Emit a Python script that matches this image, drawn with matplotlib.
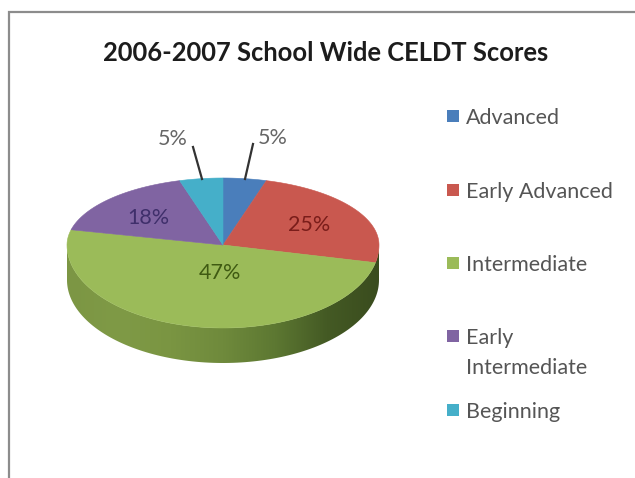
"""
2006-2007 CELDT scores: fake-3D pie drawn in pixel coordinates.
"""
import numpy as np
import matplotlib
matplotlib.use('Agg')
import matplotlib.pyplot as plt
import matplotlib.patches as mpatches
from matplotlib.colors import LinearSegmentedColormap

categories = ['Advanced', 'Early Advanced', 'Intermediate', 'Early\nIntermediate', 'Beginning']
values = [5, 25, 47, 18, 5]
colors = ['#4a7ebb', '#c9584f', '#9bbb59', '#8064a2', '#45afc9']
label_colors = ['#666666', '#7a1d1a', '#3f5a12', '#3f2f6b', '#666666']

W, H = 635, 478
plt.rcParams['font.family'] = ['Lato', 'DejaVu Sans']

fig = plt.figure(figsize=(W / 100, H / 100), dpi=100)
ax = fig.add_axes([0, 0, 1, 1])
ax.set_xlim(0, W)
ax.set_ylim(H, 0)
ax.axis('off')

# picture frame, runs off the right and bottom edge
ax.plot([9, 9, W], [H, 12, 12], color='#8c8c8c', lw=1.6, solid_joinstyle='miter')

ax.text(326, 53, '2006-2007 School Wide CELDT Scores', ha='center', va='center',
        fontsize=18.4, fontweight='bold', color='#1c1c1c')

CX, CY = 223, 245
RX, RY_BACK, RY_FRONT = 156, 67, 83
DEPTH = 35


def rim(theta):
    # clockwise degrees from 12 o'clock; perspective squeezes the angles
    # towards the sides and stretches the near half of the ellipse
    t = np.radians(theta - 6 * np.sin(np.radians(theta)))
    c = np.cos(t)
    ry = np.where(c > 0, RY_BACK, RY_FRONT)
    return CX + RX * np.sin(t), CY - ry * c


# ── Side wall with left-to-right shading ──────────────────────────
bounds = np.cumsum([0] + values) / sum(values) * 360
t = np.radians(np.linspace(90, 270, 120))
xr, yr = CX + RX * np.sin(t), CY - RY_FRONT * np.cos(t)
wall_xy = np.r_[np.c_[xr, yr], np.c_[xr, yr + DEPTH][::-1]]
wall = mpatches.Polygon(wall_xy, closed=True, facecolor='none', edgecolor='none',
                        transform=ax.transData)
ax.add_patch(wall)
cmap = LinearSegmentedColormap.from_list(
    'wall', ['#7c9644', '#7f9a46', '#7a9542', '#6f8a3c', '#5d7832', '#445a24', '#3a4c1e'])
img = ax.imshow(np.linspace(0, 1, 256)[None, :], cmap=cmap, aspect='auto',
                extent=(CX - RX, CX + RX, CY + RY_FRONT + DEPTH, CY - 5), zorder=2)
img.set_clip_path(wall)
ax.set_xlim(0, W)
ax.set_ylim(H, 0)

# ── Top face ──────────────────────────────────────────────────────
for i, v in enumerate(values):
    th = np.linspace(bounds[i], bounds[i + 1], 80)
    xs, ys = rim(th)
    poly = np.r_[[[CX, CY]], np.c_[xs, ys]]
    ax.add_patch(mpatches.Polygon(poly, closed=True, facecolor=colors[i],
                                  edgecolor=colors[i], lw=0.4, zorder=3))

# ── Data labels ───────────────────────────────────────────────────
label_xy = [(273, 138), (309, 225), (220, 273), (148, 218), (173, 139)]
for v, c, (lx, ly) in zip(values, label_colors, label_xy):
    ax.text(lx, ly, f'{v}%', ha='center', va='center', fontsize=15.5, color=c, zorder=5)

ax.plot([253, 245], [144, 179], color='#333333', lw=1.6, zorder=4)
ax.plot([193, 202], [147, 179], color='#333333', lw=1.6, zorder=4)

# ── Legend, rows are not evenly spaced ────────────────────────────
legend_y = [116, 190, 263, 336, 410]
for name, c, ly in zip(categories, colors, legend_y):
    ax.add_patch(mpatches.Rectangle((447, ly - 6), 12, 12, facecolor=c, edgecolor='none'))
    ax.text(466, ly - 8, name, ha='left', va='top', fontsize=15.5, color='#555555',
            linespacing=1.65)

fig.savefig('out.png', dpi=100, facecolor='white')
